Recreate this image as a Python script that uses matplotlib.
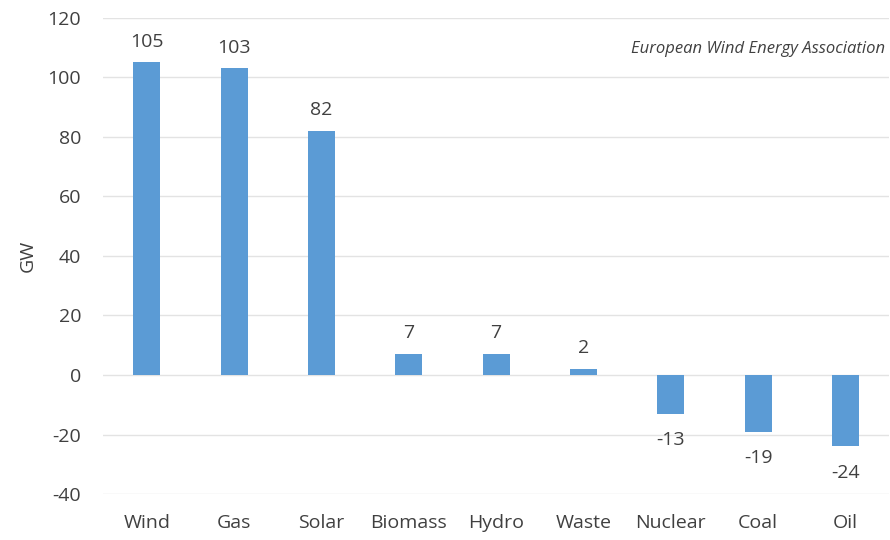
import matplotlib.pyplot as plt

sources = ['Wind', 'Gas', 'Solar', 'Biomass', 'Hydro', 'Waste', 'Nuclear', 'Coal', 'Oil']
net_gw = [105, 103, 82, 7, 7, 2, -13, -19, -24]
y_ticks = [-40, -20, 0, 20, 40, 60, 80, 100, 120]

plt.rcParams['font.family'] = ['Open Sans', 'DejaVu Sans']
plt.rcParams['axes.unicode_minus'] = False

fig = plt.figure(figsize=(8.9, 5.4), dpi=100)
ax = fig.add_axes([0.116, 0.085, 0.883, 0.882])

x = range(len(sources))
ax.bar(x, net_gw, width=0.31, color='#5B9BD5', zorder=3)

for i, v in enumerate(net_gw):
    off = 15 if v >= 0 else -19
    ax.annotate(str(v), (i, v), xytext=(0, off), textcoords='offset points',
                ha='center', va='center', fontsize=14, color='#404040')

ax.set_xlim(-0.5, len(sources) - 0.5)
ax.set_ylim(-40, 120)
ax.set_yticks(y_ticks)
ax.set_xticks(list(x))
ax.set_xticklabels(sources)
ax.tick_params(axis='both', length=0, labelsize=14, labelcolor='#404040')
ax.tick_params(axis='y', pad=16)
ax.tick_params(axis='x', pad=14)
ax.grid(axis='y', color='#e3e3e3', linewidth=1, zorder=0)
for s in ax.spines.values():
    s.set_visible(False)

ax.set_ylabel('GW', fontsize=14, color='#404040', labelpad=8)
ax.text(0.995, 0.935, 'European Wind Energy Association', transform=ax.transAxes,
        ha='right', va='center', fontsize=12, style='italic', color='#404040')

fig.savefig('out.png', dpi=100)
